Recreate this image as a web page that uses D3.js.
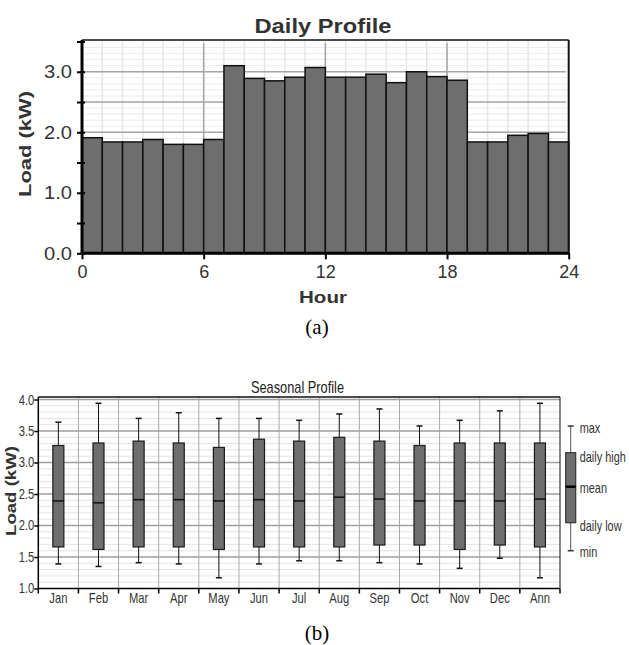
<!DOCTYPE html>
<html>
<head>
<meta charset="utf-8">
<script src="https://cdn.jsdelivr.net/npm/d3@7"></script>
<style>
  html, body { margin: 0; padding: 0; background: #fff; }
  svg { display: block; }
  .sans, .narrow { font-family: "Liberation Sans", Arial, sans-serif; }
  .serif { font-family: "Liberation Serif", "Times New Roman", serif; }
</style>
</head>
<body>
<svg id="chart" width="629" height="645"></svg>
<script>
// ---------- Data ----------
const hours = d3.range(24);
const hourlyLoad = [1.91, 1.84, 1.84, 1.88, 1.80, 1.80, 1.88, 3.10, 2.89, 2.85, 2.91, 3.07,
                    2.91, 2.91, 2.96, 2.82, 3.00, 2.92, 2.86, 1.84, 1.84, 1.95, 1.98, 1.84];
const hourTicks = [0, 6, 12, 18, 24];
const dailyYTicks = [0, 1, 2, 3];

const months = ["Jan","Feb","Mar","Apr","May","Jun","Jul","Aug","Sep","Oct","Nov","Dec","Ann"];
const seasonMax  = [3.64, 3.94, 3.70, 3.79, 3.70, 3.70, 3.67, 3.77, 3.85, 3.58, 3.67, 3.82, 3.94];
const seasonHigh = [3.27, 3.31, 3.34, 3.31, 3.24, 3.37, 3.34, 3.40, 3.34, 3.27, 3.31, 3.31, 3.31];
const seasonMean = [2.39, 2.36, 2.41, 2.41, 2.39, 2.41, 2.39, 2.45, 2.42, 2.39, 2.39, 2.39, 2.42];
const seasonLow  = [1.66, 1.62, 1.66, 1.66, 1.62, 1.66, 1.66, 1.66, 1.69, 1.69, 1.62, 1.69, 1.66];
const seasonMin  = [1.39, 1.35, 1.41, 1.39, 1.17, 1.39, 1.44, 1.44, 1.41, 1.39, 1.32, 1.48, 1.17];
const seasonYTicks = [1.0, 1.5, 2.0, 2.5, 3.0, 3.5, 4.0];
const legendLabels = ["max", "daily high", "mean", "daily low", "min"];

const svg = d3.select("#chart");
const barFill = "#6e6e6e";

// condense text horizontally about its anchor x (emulates a narrow face)
function condense(sel, k) {
  sel.each(function () {
    const ax = +d3.select(this).attr("x") || 0;
    d3.select(this).attr("transform", `translate(${ax * (1 - k)},0) scale(${k},1)`);
  });
}

// ================= (a) Daily Profile =================
(function daily() {
  const x = d3.scaleLinear().domain([0, 24]).range([82, 568.7]);
  const y = d3.scaleLinear().domain([0, 3.5]).range([253.3, 41.5]);
  const g = svg.append("g").attr("class", "sans");
  const top = 40;

  // minor grid
  g.append("g").selectAll("line").data(d3.range(1, 35).map(d => d / 10)).join("line")
    .attr("x1", x(0)).attr("x2", x(24)).attr("y1", d => y(d)).attr("y2", d => y(d))
    .attr("stroke", "#ebebeb").attr("stroke-width", 1);
  g.append("g").selectAll("line").data(d3.range(1, 24)).join("line")
    .attr("x1", d => x(d)).attr("x2", d => x(d)).attr("y1", top).attr("y2", y(0))
    .attr("stroke", "#e6e6e6").attr("stroke-width", 1.5);
  // major grid
  g.append("g").selectAll("line").data(d3.range(1, 7).map(d => d / 2)).join("line")
    .attr("x1", x(0)).attr("x2", x(24) - 3).attr("y1", d => y(d)).attr("y2", d => y(d))
    .attr("stroke", "#a6a6a6").attr("stroke-width", 1.5);
  g.append("g").selectAll("line").data([6, 12, 18]).join("line")
    .attr("x1", d => x(d)).attr("x2", d => x(d)).attr("y1", top + 3).attr("y2", y(0))
    .attr("stroke", "#a6a6a6").attr("stroke-width", 1.5);

  // bars
  g.append("g").selectAll("rect").data(hours).join("rect")
    .attr("x", d => x(d)).attr("width", x(1) - x(0))
    .attr("y", d => y(hourlyLoad[d])).attr("height", d => y(0) - y(hourlyLoad[d]))
    .attr("fill", barFill).attr("stroke", "#111").attr("stroke-width", 1.5);

  // frame
  g.append("line").attr("x1", x(0)).attr("x2", x(24)).attr("y1", top).attr("y2", top)
    .attr("stroke", "#111").attr("stroke-width", 1.5);
  g.append("line").attr("x1", x(24)).attr("x2", x(24)).attr("y1", top).attr("y2", y(0))
    .attr("stroke", "#111").attr("stroke-width", 2);

  // axes
  const yAxis = d3.axisLeft(y).tickValues(d3.range(0, 8).map(d => d / 2))
    .tickSize(5).tickFormat(d => dailyYTicks.includes(d) ? d3.format(".1f")(d) : "");
  const ya = g.append("g").attr("transform", `translate(${x(0)},0)`).call(yAxis);
  ya.select(".domain").attr("stroke", "#000").attr("stroke-width", 3)
    .attr("d", `M0,${top}V${y(0)}`);
  ya.selectAll(".tick line").attr("stroke", "#000").attr("stroke-width", 2).attr("x1", 3);
  ya.selectAll(".tick text").attr("font-size", 18).attr("fill", "#333")
    .attr("font-family", "Liberation Sans, Arial, sans-serif").attr("x", -10)
    .call(condense, 1.12);

  const xAxis = d3.axisBottom(x).tickValues(hourTicks).tickSize(6).tickFormat(d3.format("d"));
  const xa = g.append("g").attr("transform", `translate(0,${y(0)})`).call(xAxis);
  xa.select(".domain").attr("stroke", "#000").attr("stroke-width", 3)
    .attr("d", `M${x(0)},0H${x(24)}`);
  xa.selectAll(".tick line").attr("stroke", "#000").attr("stroke-width", 2);
  xa.selectAll(".tick text").attr("font-size", 18).attr("fill", "#333")
    .attr("font-family", "Liberation Sans, Arial, sans-serif").attr("y", 12);

  // titles
  g.append("text").attr("x", 323).attr("y", 33).attr("text-anchor", "middle")
    .attr("font-size", 20).attr("font-weight", "bold").attr("fill", "#333")
    .attr("textLength", 137).attr("lengthAdjust", "spacingAndGlyphs").text("Daily Profile");
  g.append("text").attr("x", 323).attr("y", 303).attr("text-anchor", "middle")
    .attr("font-size", 17).attr("font-weight", "bold").attr("fill", "#333")
    .attr("textLength", 48).attr("lengthAdjust", "spacingAndGlyphs").text("Hour");
  g.append("text").attr("transform", "translate(31,144) rotate(-90)").attr("text-anchor", "middle")
    .attr("font-size", 17).attr("font-weight", "bold").attr("fill", "#333")
    .attr("textLength", 106).attr("lengthAdjust", "spacingAndGlyphs").text("Load (kW)");
  svg.append("text").attr("class", "serif").attr("x", 317).attr("y", 334).attr("text-anchor", "middle")
    .attr("font-size", 21).attr("fill", "#000").text("(a)");
})();

// ================= (b) Seasonal Profile =================
(function seasonal() {
  const x = d3.scaleBand().domain(months).range([38.3, 560]);
  const y = d3.scaleLinear().domain([1, 4.04]).range([588.5, 397]);
  const g = svg.append("g").attr("class", "narrow");
  const top = y(4.04), bottom = y(1);
  const left = x.range()[0], right = x.range()[1];

  // minor grid
  g.append("g").selectAll("line").data(d3.range(11, 40).map(d => d / 10)).join("line")
    .attr("x1", left).attr("x2", right).attr("y1", d => y(d)).attr("y2", d => y(d))
    .attr("stroke", "#e3e3e3").attr("stroke-width", 1);
  // major grid
  g.append("g").selectAll("line").data(seasonYTicks.slice(1)).join("line")
    .attr("x1", left).attr("x2", right).attr("y1", d => y(d)).attr("y2", d => y(d))
    .attr("stroke", "#a0a0a0").attr("stroke-width", 1.5);
  g.append("g").selectAll("line").data(months.slice(1)).join("line")
    .attr("x1", d => x(d)).attr("x2", d => x(d)).attr("y1", top).attr("y2", bottom)
    .attr("stroke", "#a8a8a8").attr("stroke-width", 1);

  // boxes
  const bw = 11, cap = 6;
  const bx = g.append("g").selectAll("g").data(months).join("g")
    .attr("transform", d => `translate(${x(d) + x.bandwidth() / 2},0)`);
  bx.append("line").attr("x1", 0).attr("x2", 0)
    .attr("y1", (d, i) => y(seasonMax[i])).attr("y2", (d, i) => y(seasonMin[i]))
    .attr("stroke", "#111").attr("stroke-width", 1);
  bx.append("line").attr("x1", -cap / 2).attr("x2", cap / 2)
    .attr("y1", (d, i) => y(seasonMax[i])).attr("y2", (d, i) => y(seasonMax[i]))
    .attr("stroke", "#111").attr("stroke-width", 1.5);
  bx.append("line").attr("x1", -cap / 2).attr("x2", cap / 2)
    .attr("y1", (d, i) => y(seasonMin[i])).attr("y2", (d, i) => y(seasonMin[i]))
    .attr("stroke", "#111").attr("stroke-width", 1.5);
  bx.append("rect").attr("x", -bw / 2).attr("width", bw)
    .attr("y", (d, i) => y(seasonHigh[i])).attr("height", (d, i) => y(seasonLow[i]) - y(seasonHigh[i]))
    .attr("fill", barFill).attr("stroke", "#1a1a1a").attr("stroke-width", 1.2);
  bx.append("line").attr("x1", -bw / 2).attr("x2", bw / 2)
    .attr("y1", (d, i) => y(seasonMean[i])).attr("y2", (d, i) => y(seasonMean[i]))
    .attr("stroke", "#111").attr("stroke-width", 1.5);

  // frame
  g.append("line").attr("x1", left).attr("x2", right).attr("y1", top).attr("y2", top)
    .attr("stroke", "#111").attr("stroke-width", 1.5);
  g.append("line").attr("x1", right).attr("x2", right).attr("y1", top).attr("y2", bottom)
    .attr("stroke", "#111").attr("stroke-width", 1);

  // axes
  const yAxis = d3.axisLeft(y).tickValues(seasonYTicks).tickSize(4).tickFormat(d3.format(".1f"));
  const ya = g.append("g").attr("transform", `translate(${left},0)`).call(yAxis);
  ya.select(".domain").attr("stroke", "#000").attr("stroke-width", 1.5).attr("d", `M0,${top}V${bottom}`);
  ya.selectAll(".tick line").attr("stroke", "#000").attr("stroke-width", 1.5);
  ya.selectAll(".tick text").attr("font-size", 14).attr("fill", "#333").attr("x", -4)
    .attr("font-family", null).call(condense, 0.8);

  const xAxis = d3.axisBottom(x).tickSize(0);
  const xa = g.append("g").attr("transform", `translate(0,${bottom})`).call(xAxis);
  xa.select(".domain").attr("stroke", "#000").attr("stroke-width", 1.5).attr("d", `M${left},0H${right}`);
  xa.selectAll(".tick text").attr("font-size", 14).attr("fill", "#333").attr("y", 5)
    .attr("font-family", null).call(condense, 0.8);
  // boundary ticks
  xa.append("g").selectAll("line").data(months.map(d => x(d)).concat([right])).join("line")
    .attr("x1", d => d).attr("x2", d => d).attr("y1", 0).attr("y2", 5)
    .attr("stroke", "#000").attr("stroke-width", 1.5);

  g.append("text").attr("x", 297.5).attr("y", 393).attr("text-anchor", "middle")
    .attr("font-size", 16).attr("fill", "#222").text("Seasonal Profile").call(condense, 0.8);
  g.append("text").attr("transform", "translate(16,491) rotate(-90)").attr("text-anchor", "middle")
    .attr("font-size", 14).attr("font-weight", "bold").attr("fill", "#333")
    .attr("textLength", 90).attr("lengthAdjust", "spacingAndGlyphs").text("Load (kW)");

  // legend
  const lg = g.append("g").attr("transform", "translate(570.7,0)");
  const legY = [426, 452.7, 486.7, 522.7, 550.7];
  lg.append("line").attr("x1", 0).attr("x2", 0).attr("y1", legY[0]).attr("y2", legY[4])
    .attr("stroke", "#555").attr("stroke-width", 1);
  [legY[0], legY[4]].forEach(v => lg.append("line").attr("x1", -3).attr("x2", 3)
    .attr("y1", v).attr("y2", v).attr("stroke", "#333").attr("stroke-width", 1.5));
  lg.append("rect").attr("x", -5).attr("width", 10).attr("y", legY[1]).attr("height", legY[3] - legY[1])
    .attr("fill", barFill).attr("stroke", "#333").attr("stroke-width", 1.2);
  lg.append("line").attr("x1", -5).attr("x2", 5).attr("y1", legY[2]).attr("y2", legY[2])
    .attr("stroke", "#000").attr("stroke-width", 2.5);
  lg.selectAll("text").data(legendLabels).join("text")
    .attr("x", 9).attr("y", (d, i) => legY[i] + [2, 4, 1, 3, 1][i]).attr("dy", "0.35em")
    .attr("font-size", 14).attr("fill", "#333").text(d => d).call(condense, 0.78);

  svg.append("text").attr("class", "serif").attr("x", 317).attr("y", 640).attr("text-anchor", "middle")
    .attr("font-size", 21).attr("fill", "#000").text("(b)");
})();
</script>
</body>
</html>
